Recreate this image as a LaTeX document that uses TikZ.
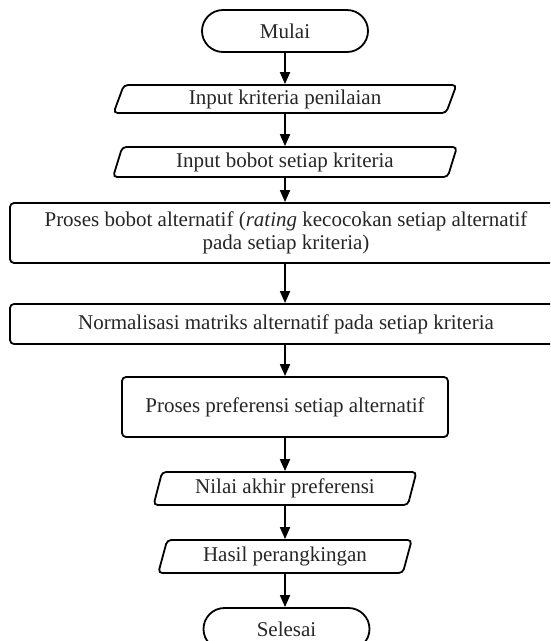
\documentclass[tikz,border=0pt]{standalone}
\usepackage{fontspec}
\setmainfont{Liberation Serif}
\usetikzlibrary{shapes.geometric,arrows.meta}

\tikzset{
  base/.style={draw=black, line width=1.8pt, inner sep=0pt,
    font=\fontsize{21}{23}\selectfont, text=black!85},
  terminal/.style={base, rectangle, rounded corners=21pt,
    minimum width=166pt, minimum height=42pt},
  iobox/.style={base, trapezium, trapezium left angle=72,
    trapezium right angle=108, trapezium stretches=true,
    rounded corners=4pt},
  procbox/.style={base, rectangle, rounded corners=4pt, align=center},
  flow/.style={line width=1.8pt, -{Triangle[length=12pt,width=10pt]}}
}

\begin{document}
\begin{tikzpicture}[x=1pt,y=-1pt]
  \useasboundingbox (0,0) rectangle (550,641);
  \clip (0,0) rectangle (550,641);
  \fill[white] (0,0) rectangle (550,641);

  % flowchart steps, top to bottom
  \node[terminal] (start) at (285,31) {Mulai};
  \node[iobox, minimum width=344pt, minimum height=28pt] (in1) at (285,99)
    {Input kriteria penilaian};
  \node[iobox, minimum width=344pt, minimum height=30pt] (in2) at (285,162)
    {Input bobot setiap kriteria};
  \node[procbox, minimum width=552pt, minimum height=60pt] (rate) at (286,233)
    {Proses bobot alternatif (\textit{rating} kecocokan setiap alternatif\\
     pada setiap kriteria)};
  \node[procbox, minimum width=552pt, minimum height=40pt] (norm) at (286,324)
    {Normalisasi matriks alternatif pada setiap kriteria};
  \node[procbox, minimum width=326pt, minimum height=60pt] (pref) at (285,407)
    {Proses preferensi setiap alternatif};
  \node[iobox, minimum width=263pt, minimum height=33pt] (score) at (285,488.5)
    {Nilai akhir preferensi};
  \node[iobox, minimum width=254pt, minimum height=33pt] (rank) at (285,556.5)
    {Hasil perangkingan};
  \node[terminal] (stop) at (286.5,629) {Selesai};

  % connectors
  \draw[flow] (start.south) -- (start.south |- in1.north);
  \draw[flow] (in1.south) -- (in1.south |- in2.north);
  \draw[flow] (in2.south) -- (in2.south |- rate.north);
  \draw[flow] (in2.south |- rate.south) -- (in2.south |- norm.north);
  \draw[flow] (in2.south |- norm.south) -- (in2.south |- pref.north);
  \draw[flow] (pref.south) -- (pref.south |- score.north);
  \draw[flow] (score.south) -- (score.south |- rank.north);
  \draw[flow] (rank.south) -- (rank.south |- stop.north);
\end{tikzpicture}
\end{document}
